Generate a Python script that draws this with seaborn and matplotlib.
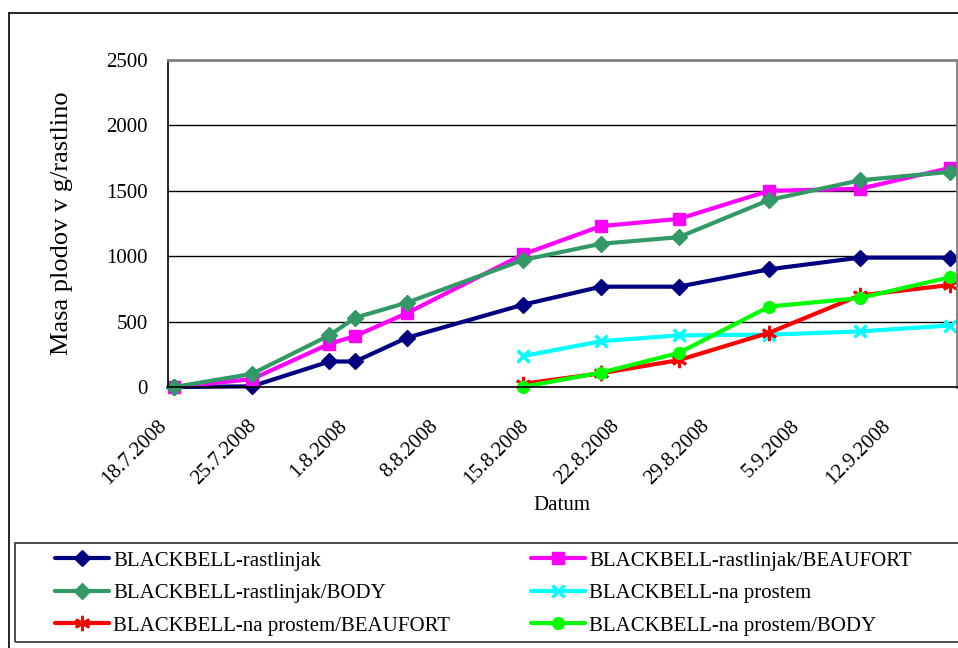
import matplotlib
matplotlib.use("Agg")
import matplotlib.pyplot as plt
import matplotlib.transforms as mtransforms
import seaborn as sns
import pandas as pd
import numpy as np
from matplotlib.patches import Rectangle
from matplotlib.lines import Line2D

sns.set_theme(style="white")
plt.rcParams['font.family'] = ['Liberation Serif', 'DejaVu Serif']
plt.rcParams['text.color'] = 'black'
plt.rcParams['axes.labelcolor'] = 'black'
plt.rcParams['xtick.color'] = 'black'
plt.rcParams['ytick.color'] = 'black'

# ---- data ----
dates = ["18.7.2008", "24.7.2008", "30.7.2008", "1.8.2008", "5.8.2008", "14.8.2008",
         "20.8.2008", "26.8.2008", "2.9.2008", "9.9.2008", "16.9.2008"]
rastlinjak          = [0, 5, 195, 195, 377, 630, 767, 767, 900, 989, 989]
rastlinjak_beaufort = [0, 60, 330, 390, 565, 1015, 1230, 1285, 1500, 1515, 1675]
rastlinjak_body     = [0, 100, 395, 530, 645, 972, 1095, 1145, 1430, 1580, 1645]
prostem             = [None, None, None, None, None, 237, 350, 395, 400, 425, 470]
prostem_beaufort    = [None, None, None, None, None, 25, 105, 205, 415, 700, 780]
prostem_body        = [None, None, None, None, None, 2, 110, 260, 615, 680, 840]

series_names = ["BLACKBELL-rastlinjak", "BLACKBELL-rastlinjak/BEAUFORT",
                "BLACKBELL-rastlinjak/BODY", "BLACKBELL-na prostem",
                "BLACKBELL-na prostem/BEAUFORT", "BLACKBELL-na prostem/BODY"]
series_values = [rastlinjak, rastlinjak_beaufort, rastlinjak_body,
                 prostem, prostem_beaufort, prostem_body]
colors = ["#000080", "#FF00FF", "#339966", "#00FFFF", "#FF0000", "#00FF00"]
markers = ["D", "s", "D", "x", (6, 2, 0), "o"]
msizes = [8, 8.5, 8, 9, 11, 8.5]
mews = [1, 1, 1, 2.5, 2, 1]

tick_labels = ["18.7.2008", "25.7.2008", "1.8.2008", "8.8.2008", "15.8.2008",
               "22.8.2008", "29.8.2008", "5.9.2008", "12.9.2008"]

# ---- figure ----
W, H = 958, 648
fig = plt.figure(figsize=(W / 100, H / 100), dpi=100)
ax = fig.add_axes([167.7 / W, 1 - 387 / H, (956.7 - 167.7) / W, (387 - 60) / H])

x = pd.to_datetime(dates, format="%d.%m.%Y") + pd.Timedelta(hours=12)
start = pd.Timestamp("2008-07-18")

for name, vals, c, m, ms, mew in zip(series_names, series_values, colors, markers, msizes, mews):
    df = pd.DataFrame({"Datum": x, "val": pd.to_numeric(pd.Series(vals), errors="coerce")}).dropna()
    sns.lineplot(data=df, x="Datum", y="val", ax=ax, color=c, lw=3,
                 marker=m, markersize=ms, markeredgewidth=mew,
                 markeredgecolor=c, markerfacecolor=c, label=name, legend=False,
                 clip_on=False)

ax.set_xlim(start, start + pd.Timedelta(days=61))
ax.set_ylim(0, 2500)
ax.set_yticks([0, 500, 1000, 1500, 2000, 2500])
ticks = pd.to_datetime(tick_labels, format="%d.%m.%Y")
ax.set_xticks(ticks)
ax.set_xticklabels(tick_labels, rotation=45, ha="right", va="center", rotation_mode="anchor")
ax.tick_params(axis="x", direction="out", length=6, width=1, color="black", labelsize=15, pad=20)
ax.tick_params(axis="y", direction="out", length=6, width=1, color="black", labelsize=15, pad=8.5)
offset = mtransforms.ScaledTranslation(-4 / 100, 0, fig.dpi_scale_trans)
for lbl in ax.get_xticklabels():
    lbl.set_transform(lbl.get_transform() + offset)
ax.yaxis.grid(True, color="black", lw=1)
ax.xaxis.grid(False)
ax.set_axisbelow(True)
for s in ["left", "bottom"]:
    ax.spines[s].set_color("black")
    ax.spines[s].set_linewidth(1.2)
for s in ["top", "right"]:
    ax.spines[s].set_color("#808080")
    ax.spines[s].set_linewidth(2)
ax.set_xlabel("Datum", fontsize=15, labelpad=5.5)
ax.set_ylabel("Masa plodov v g/rastlino", fontsize=19)
ax.yaxis.set_label_coords(-(167.7 - 73) / (956.7 - 167.7), 0.5)

# figure border
fig.add_artist(Line2D([9 / W, 9 / W], [0, 1 - 13 / H], color="black", lw=1.2))
fig.add_artist(Line2D([9 / W, 1], [1 - 13 / H, 1 - 13 / H], color="black", lw=1.2))
# legend box
fig.add_artist(Rectangle((14.5 / W, 1 - 641.5 / H), 2, 98.5 / H, fill=False,
                         edgecolor="#404040", lw=1.3))

handles = ax.get_lines()[:6]
order = [0, 2, 4, 1, 3, 5]
fig.legend([handles[i] for i in order], [series_names[i] for i in order],
           loc="upper left", bbox_to_anchor=(55 / W, 1 - 551 / H), ncol=2,
           frameon=False, fontsize=15, handlelength=2.6, handletextpad=0.2,
           columnspacing=3.85, labelspacing=0.62, borderpad=0, borderaxespad=0)

fig.savefig("out.png", dpi=100)
